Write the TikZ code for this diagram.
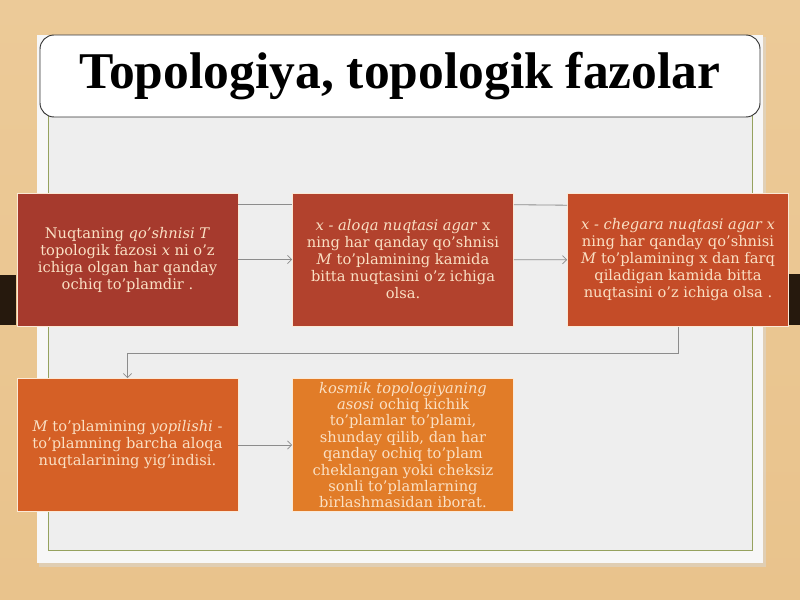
\documentclass[tikz,border=0pt]{standalone}
\usepackage{fontspec}
\setmainfont{DejaVu Serif}
\newfontfamily\titlefont{Liberation Serif}
\usetikzlibrary{arrows.meta, calc}

\definecolor{wood}{RGB}{233,195,140}
\definecolor{woodtop}{RGB}{236,202,152}
\definecolor{panel}{RGB}{247,247,247}
\definecolor{inner}{RGB}{238,238,238}
\definecolor{frame}{RGB}{150,162,95}
\definecolor{boxa}{RGB}{166,58,45}
\definecolor{boxb}{RGB}{178,66,45}
\definecolor{boxc}{RGB}{196,76,40}
\definecolor{boxd}{RGB}{213,96,38}
\definecolor{boxe}{RGB}{225,124,40}
\definecolor{cream}{RGB}{250,224,196}
\definecolor{conn}{RGB}{140,140,140}

\tikzset{
  box/.style={rectangle, draw=cream!70!white, line width=0.5pt, text=cream,
    minimum width=6.63cm, minimum height=3.99cm, align=center,
    font=\fontsize{12.5}{14.5}\selectfont},
  link/.style={draw=conn, line width=0.7pt},
  tip/.style={-{Straight Barb[length=3.5pt, width=7pt]}}
}

\begin{document}
\begin{tikzpicture}[x=0.03cm, y=-0.03cm]
  \useasboundingbox (0,0) rectangle (800,600);
  \shade[top color=woodtop, bottom color=wood] (0,0) rectangle (800,600);
  \fill[black!80!brown] (0,275) rectangle (16,325);
  \fill[black!80!brown] (789,274) rectangle (800,325);

  \fill[black!15, opacity=0.5] (39,37) rectangle (766,567);
  \fill[panel] (37,35) rectangle (763,563);
  \draw[frame, fill=inner, line width=0.6pt] (48,100) rectangle (752,550);

  \draw[black!80, fill=white, line width=0.8pt, rounded corners=12] (40,35) rectangle (760,117);
  \node (title) at (400,76) {\titlefont\fontsize{44}{50}\selectfont\bfseries Topologiya, topologik fazolar};

  \node[box, fill=boxa] (b1) at (127.5,259.5) {Nuqtaning \textit{qo'shnisi T}\\ topologik fazosi \textit{x} ni o'z\\ ichiga olgan har qanday\\ ochiq to'plamdir .};
  \node[box, fill=boxb] (b2) at (403,259.5) {\textit{x - aloqa nuqtasi agar} x\\ ning har qanday qo'shnisi\\ \textit{M} to'plamining kamida\\ bitta nuqtasini o'z ichiga\\ olsa.};
  \node[box, fill=boxc] (b3) at (678,260) {\textit{x - chegara nuqtasi agar x}\\ ning har qanday qo'shnisi\\ \textit{M} to'plamining x dan farq\\ qiladigan kamida bitta\\ nuqtasini o'z ichiga olsa .};
  \node[box, fill=boxd] (b4) at (127.5,445) {\textit{M} to'plamining \textit{yopilishi} -\\ to'plamning barcha aloqa\\ nuqtalarining yig'indisi.};
  \node[box, fill=boxe, inner ysep=0pt, font=\fontsize{12.5}{14}\selectfont] (b5) at (403,445) {\textit{kosmik topologiyaning}\\ \textit{asosi} ochiq kichik\\ to'plamlar to'plami,\\ shunday qilib, dan har\\ qanday ochiq to'plam\\ cheklangan yoki cheksiz\\ sonli to'plamlarning\\ birlashmasidan iborat.};

  \draw[link] ($(b1.north east)+(0,12)$) -- ($(b2.north west)+(0,12)$);
  \draw[link] ($(b2.north east)+(0,12)$) -- ($(b3.north west)+(0,12)$);

  \draw[link, tip] (b1) -- (b2);
  \draw[link, tip] (b2) -- (b3);
  \draw[link, tip] (b3.south) -- ++(0,27) -| (b4.north);
  \draw[link, tip] (b4) -- (b5);
\end{tikzpicture}
\end{document}
